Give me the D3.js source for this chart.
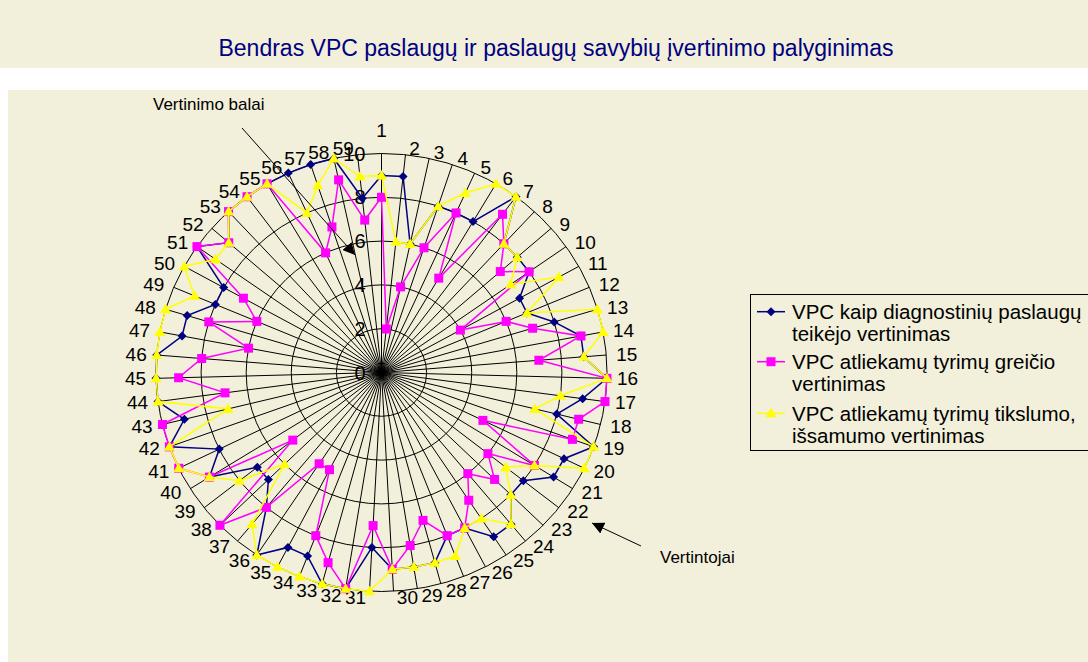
<!DOCTYPE html>
<html>
<head>
<meta charset="utf-8">
<script src="https://cdn.jsdelivr.net/npm/d3@7"></script>
<style>
  html, body { margin: 0; padding: 0; background: #ffffff; }
  svg { display: block; font-family: 'Liberation Sans', Arial, sans-serif; }
</style>
</head>
<body>
<script>
// evaluators (spokes)
const categories = ['1','2','3','4','5','6','7','8','9','10','11','12','13','14','15','16','17','18','19','20',
  '21','22','23','24','25','26','27','28','29','30','31','32','33','34','35','36','37','38','39','40',
  '41','42','43','44','45','46','47','48','49','50','51','52','53','54','55','56','57','58','59'];

// score ticks on the radial axis
const ticks = [0, 2, 4, 6, 8, 10];

const seriesNames = [
  ['VPC kaip diagnostinių paslaugų', 'teikėjo vertinimas'],
  ['VPC atliekamų tyrimų greičio', 'vertinimas'],
  ['VPC atliekamų tyrimų tikslumo,', 'išsamumo vertinimas']
];

const diagnosticScores = [9,9,6,8,8,8,10,8,8,8, 7,7,8,9,9,10,9,8,10,9, 9,8,8,9,9,8,8,9,9,9,
  8,10,10,9,9,10,8,7,7,9, 8,10,9,10,10,10,9,9,8,8, 10,9,10,10,10,10,10,10,8];
const speedScores = [8,2,4,6,8,5,9,8,7,8, 4,6,7,9,7,10,10,9,9,5, 8,6,7,6,7,8,8,7,8,9,
  7,10,9,8,5,5,8,10,5,9, 10,10,10,7,9,8,6,8,6,7, 10,9,10,10,10,6,7,9,7];
const accuracyScores = [9,6,6,8,9,10,10,8,8,7, 9,7,10,10,9,10,8,7,10,10, 8,7,8,9,8,8,9,9,9,9,
  10,10,10,10,10,10,9,6,8,9, 10,10,7,10,10,10,10,10,9,10, 9,9,10,10,10,8,9,10,9];

const W = 1088, H = 662;
const CX = 381.5, CY = 372.5, RX = 225.5, RY = 219;
const BG = '#f2efda';

const svg = d3.select('body').append('svg')
  .attr('width', W)
  .attr('height', H);

// backgrounds: title band and plot area
svg.append('rect').attr('x', 0).attr('y', 0).attr('width', W).attr('height', 68).attr('fill', BG);
svg.append('rect').attr('x', 8).attr('y', 90).attr('width', W - 8).attr('height', H - 90).attr('fill', BG);

svg.append('text')
  .attr('x', 556)
  .attr('y', 56)
  .attr('text-anchor', 'middle')
  .attr('fill', '#000080')
  .attr('font-size', 23)
  .text('Bendras VPC paslaugų ir paslaugų savybių įvertinimo palyginimas');

// scales
const angle = d3.scaleLinear().domain([0, categories.length]).range([0, 2 * Math.PI]);
const rx = d3.scaleLinear().domain([0, 10]).range([0, RX]);
const ry = d3.scaleLinear().domain([0, 10]).range([0, RY]);

function px(i, v) { return CX + rx(v) * Math.sin(angle(i)); }
function py(i, v) { return CY - ry(v) * Math.cos(angle(i)); }

const grid = svg.append('g').attr('class', 'grid');

// rings
grid.selectAll('.ring')
  .data(ticks.filter(t => t > 0))
  .enter()
  .append('ellipse')
  .attr('cx', CX)
  .attr('cy', CY)
  .attr('rx', d => rx(d))
  .attr('ry', d => ry(d))
  .attr('fill', 'none')
  .attr('stroke', '#000')
  .attr('stroke-width', 1);

// spokes
grid.selectAll('.spoke')
  .data(categories)
  .enter()
  .append('line')
  .attr('x1', CX)
  .attr('y1', CY)
  .attr('x2', (d, i) => px(i, 10))
  .attr('y2', (d, i) => py(i, 10))
  .attr('stroke', '#000')
  .attr('stroke-width', 1);

// category labels round the outside
grid.selectAll('.cat')
  .data(categories)
  .enter()
  .append('text')
  .attr('font-size', 19)
  .attr('fill', '#000')
  .attr('dominant-baseline', 'central')
  .attr('text-anchor', (d, i) => {
    let s = Math.sin(angle(i));
    return s > 0.01 ? 'start' : (s < -0.01 ? 'end' : 'middle');
  })
  .attr('x', (d, i) => {
    let s = Math.sin(angle(i));
    let gap = 3 + 7 * Math.abs(s);
    return px(i, 10) + (s > 0.01 ? gap : (s < -0.01 ? -gap : 0));
  })
  .attr('y', (d, i) => {
    let c = Math.cos(angle(i));
    return py(i, 10) - c * 6.5 - (i === 0 ? 17 : 0);
  })
  .text(d => d);

// radial axis labels along the first spoke
grid.selectAll('.tick')
  .data(ticks)
  .enter()
  .append('text')
  .attr('font-size', 20)
  .attr('text-anchor', 'end')
  .attr('dominant-baseline', 'central')
  .attr('x', CX - 16)
  .attr('y', d => CY - ry(d))
  .text(d => d);

// series
const series = [
  { values: diagnosticScores, color: '#000080', symbol: 'diamond' },
  { values: speedScores, color: '#ff00ff', symbol: 'square' },
  { values: accuracyScores, color: '#ffff00', symbol: 'triangle' }
];

function symbolPath(type) {
  if (type === 'diamond') return 'M0,-4.5L4.5,0L0,4.5L-4.5,0Z';
  if (type === 'square') return 'M-4.5,-4.5L4.5,-4.5L4.5,4.5L-4.5,4.5Z';
  return 'M0,-5.5L5.5,4L-5.5,4Z';
}

const line = d3.line()
  .x((d, i) => px(i, d))
  .y((d, i) => py(i, d))
  .curve(d3.curveLinearClosed);

series.forEach(s => {
  let g = svg.append('g');
  g.append('path')
    .attr('d', line(s.values))
    .attr('fill', 'none')
    .attr('stroke', s.color)
    .attr('stroke-width', 1.5);
  g.selectAll('path.mark')
    .data(s.values)
    .enter()
    .append('path')
    .attr('class', 'mark')
    .attr('d', symbolPath(s.symbol))
    .attr('transform', (d, i) => 'translate(' + px(i, d) + ',' + py(i, d) + ')')
    .attr('fill', s.color);
});

// arrow marker for annotations
svg.append('defs')
  .append('marker')
    .attr('id', 'arrow')
    .attr('viewBox', '0 -5 10 10')
    .attr('refX', 10)
    .attr('refY', 0)
    .attr('markerWidth', 12)
    .attr('markerHeight', 12)
    .attr('orient', 'auto')
    .attr('markerUnits', 'userSpaceOnUse')
  .append('path')
    .attr('d', 'M0,-5L10,0L0,5Z')
    .attr('fill', '#000');

svg.append('text').attr('x', 153).attr('y', 110).attr('font-size', 17).text('Vertinimo balai');
svg.append('line')
  .attr('x1', 242).attr('y1', 128).attr('x2', 355).attr('y2', 255)
  .attr('stroke', '#000').attr('stroke-width', 1)
  .attr('marker-end', 'url(#arrow)');

svg.append('text').attr('x', 660).attr('y', 563).attr('font-size', 17).text('Vertintojai');
svg.append('line')
  .attr('x1', 641).attr('y1', 546).attr('x2', 592).attr('y2', 523)
  .attr('stroke', '#000').attr('stroke-width', 1)
  .attr('marker-end', 'url(#arrow)');

// legend
const legend = svg.append('g').attr('class', 'legend');
legend.append('rect')
  .attr('x', 750.5).attr('y', 294.5).attr('width', 345).attr('height', 156)
  .attr('fill', BG).attr('stroke', '#000').attr('stroke-width', 1);

const entryY = [311.7, 361.7, 413.3];
series.forEach((s, i) => {
  let y = entryY[i];
  legend.append('line')
    .attr('x1', 757).attr('x2', 785).attr('y1', y).attr('y2', y)
    .attr('stroke', s.color).attr('stroke-width', 1.5);
  legend.append('path')
    .attr('d', symbolPath(s.symbol))
    .attr('transform', 'translate(771,' + y + ')')
    .attr('fill', s.color);
  seriesNames[i].forEach((t, j) => {
    legend.append('text')
      .attr('x', 792)
      .attr('y', y + j * 21.7)
      .attr('dominant-baseline', 'central')
      .attr('font-size', 20.5)
      .text(t);
  });
});
</script>
</body>
</html>
